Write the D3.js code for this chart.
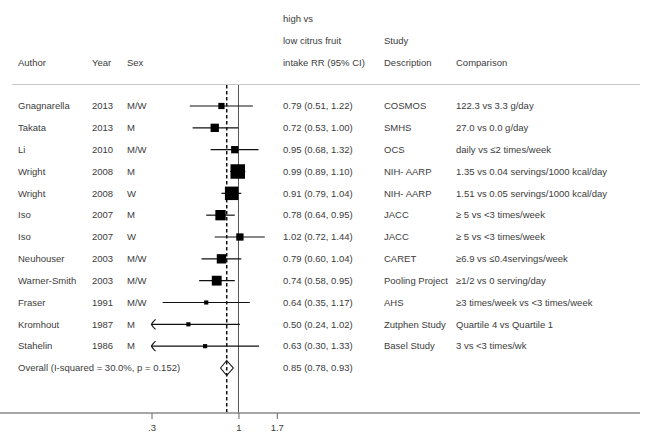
<!DOCTYPE html>
<html>
<head>
<meta charset="utf-8">
<script src="https://cdn.jsdelivr.net/npm/d3@7"></script>
<style>
  html, body { margin: 0; padding: 0; background: #fff; }
  svg text { font-family: "Liberation Sans", Arial, sans-serif; font-size: 9.5px; fill: #3c3c3c; }
</style>
</head>
<body>
<svg id="chart" width="649" height="434"></svg>
<script>
// Studies of citrus fruit intake: high vs low, relative risk with 95% CI
const authors = ["Gnagnarella", "Takata", "Li", "Wright", "Wright", "Iso", "Iso", "Neuhouser", "Warner-Smith", "Fraser", "Kromhout", "Stahelin"];
const years = [2013, 2013, 2010, 2008, 2008, 2007, 2007, 2003, 2003, 1991, 1987, 1986];
const sexes = ["M/W", "M", "M/W", "M", "W", "M", "W", "M/W", "M/W", "M/W", "M", "M"];
const rr = [0.79, 0.72, 0.95, 0.99, 0.91, 0.78, 1.02, 0.79, 0.74, 0.64, 0.50, 0.63];
const lower = [0.51, 0.53, 0.68, 0.89, 0.79, 0.64, 0.72, 0.60, 0.58, 0.35, 0.24, 0.30];
const upper = [1.22, 1.00, 1.32, 1.10, 1.04, 0.95, 1.44, 1.04, 0.95, 1.17, 1.02, 1.33];
const weights = [4.1, 7.3, 5.6, 22.2, 19.2, 11.3, 5.6, 9.2, 10.2, 1.8, 1.8, 1.8];
const studies = ["COSMOS", "SMHS", "OCS", "NIH- AARP", "NIH- AARP", "JACC", "JACC", "CARET", "Pooling Project", "AHS", "Zutphen Study", "Basel Study"];
const comparisons = [
  "122.3 vs 3.3 g/day",
  "27.0 vs 0.0 g/day",
  "daily  vs \u22642 times/week",
  "1.35 vs 0.04 servings/1000 kcal/day",
  "1.51 vs 0.05 servings/1000 kcal/day",
  "\u2265 5 vs <3 times/week",
  "\u2265 5 vs <3 times/week",
  "\u22656.9 vs \u22640.4servings/week",
  "\u22651/2  vs 0 serving/day",
  "\u22653 times/week vs <3 times/week",
  "Quartile 4 vs Quartile 1",
  "3  vs <3 times/wk"
];
const overall = { label: "Overall  (I-squared = 30.0%, p = 0.152)", rr: 0.85, lower: 0.78, upper: 0.93 };
const tickValues = [0.3, 1, 1.7];
const tickLabels = [".3", "1", "1.7"];
const headerLines = [
  ["", "", "", "high vs", "", ""],
  ["", "", "", "low citrus fruit", "Study", ""],
  ["Author", "Year", "Sex", "intake RR (95% CI)", "Description", "Comparison"]
];

const svg = d3.select("#chart");
const fmt = d3.format(".2f");

// column positions
const col = { author: 18, year: 92, sex: 127, rr: 283, study: 384, comp: 456 };
const colX = [col.author, col.year, col.sex, col.rr, col.study, col.comp];

const x = d3.scaleLog().domain([0.3, 1.7]).range([151.5, 276.8]);
const rowIndex = d3.range(authors.length + 1);
const y = d3.scalePoint().domain(rowIndex).range([106, 368]);

const plotTop = 85, plotBottom = 413;
const xMin = 0.3;

// header
const headerY = [19, 41, 63];
headerLines.forEach((line, li) => {
  line.forEach((t, ci) => {
    if (!t) return;
    svg.append("text").attr("x", colX[ci]).attr("y", headerY[li]).attr("dy", "0.35em").text(t);
  });
});

// top rule
svg.append("line").attr("x1", 12).attr("x2", 640).attr("y1", 84.5).attr("y2", 84.5)
  .attr("stroke", "#c8c8c8").attr("stroke-width", 1.2);

// reference lines: null effect and pooled estimate
svg.append("line").attr("x1", x(1)).attr("x2", x(1)).attr("y1", plotTop).attr("y2", plotBottom)
  .attr("stroke", "#555").attr("stroke-width", 1);
svg.append("line").attr("x1", x(overall.rr)).attr("x2", x(overall.rr)).attr("y1", plotTop).attr("y2", plotBottom)
  .attr("stroke", "#111").attr("stroke-width", 1.5).attr("stroke-dasharray", "3.5,2.5");

// study rows
const rows = authors.map((a, i) => ({
  author: a, year: years[i], sex: sexes[i], rr: rr[i], lo: lower[i], hi: upper[i],
  w: weights[i], study: studies[i], comp: comparisons[i], i
}));

const size = d3.scaleSqrt().domain([0, d3.max(weights)]).range([0, 14.5]);

const g = svg.append("g");
rows.forEach(d => {
  const cy = y(d.i);
  const x0 = x(Math.max(d.lo, xMin));
  g.append("line").attr("x1", x0).attr("x2", x(d.hi)).attr("y1", cy).attr("y2", cy)
    .attr("stroke", "#111").attr("stroke-width", 1.2);
  if (d.lo <= xMin) {
    g.append("path")
      .attr("d", `M${x0 + 4},${cy - 5} Q${x0 + 0.5},${cy - 1.5} ${x0},${cy} Q${x0 + 0.5},${cy + 1.5} ${x0 + 4},${cy + 5}`)
      .attr("fill", "none").attr("stroke", "#111").attr("stroke-width", 1.2);
  }
  const s = size(d.w);
  g.append("rect").attr("x", x(d.rr) - s / 2).attr("y", cy - s / 2).attr("width", s).attr("height", s)
    .attr("fill", "#000");

  const texts = [d.author, d.year, d.sex, `${fmt(d.rr)} (${fmt(d.lo)}, ${fmt(d.hi)})`, d.study, d.comp];
  texts.forEach((t, ci) => {
    g.append("text").attr("x", colX[ci]).attr("y", cy).attr("dy", "0.35em").text(t);
  });
});

// pooled estimate
const oy = y(authors.length);
svg.append("path")
  .attr("d", `M${x(overall.lower)},${oy} L${x(overall.rr)},${oy - 7.5} L${x(overall.upper)},${oy} L${x(overall.rr)},${oy + 7.5} Z`)
  .attr("fill", "#fff").attr("stroke", "#111").attr("stroke-width", 1.1);
svg.append("line").attr("x1", x(overall.rr)).attr("x2", x(overall.rr)).attr("y1", oy - 7).attr("y2", oy + 7)
  .attr("stroke", "#111").attr("stroke-width", 1.5).attr("stroke-dasharray", "3.5,2.5");
svg.append("text").attr("x", col.author).attr("y", oy).attr("dy", "0.35em").text(overall.label);
svg.append("text").attr("x", col.rr).attr("y", oy).attr("dy", "0.35em")
  .text(`${fmt(overall.rr)} (${fmt(overall.lower)}, ${fmt(overall.upper)})`);

// x axis
svg.append("line").attr("x1", 0).attr("x2", 640).attr("y1", plotBottom).attr("y2", plotBottom)
  .attr("stroke", "#8a8a8a").attr("stroke-width", 1.3);
const axis = d3.axisBottom(x).tickValues(tickValues).tickSize(6)
  .tickFormat((v, i) => tickLabels[i]);
const ax = svg.append("g").attr("transform", `translate(0,${plotBottom})`).call(axis);
ax.select(".domain").remove();
ax.selectAll(".tick line").attr("stroke", "#666");
ax.selectAll(".tick text").attr("dy", "0.9em").attr("font-size", null)
  .style("font-family", "Liberation Sans, Arial, sans-serif").style("font-size", "9.5px").attr("fill", "#3c3c3c");
</script>
</body>
</html>
